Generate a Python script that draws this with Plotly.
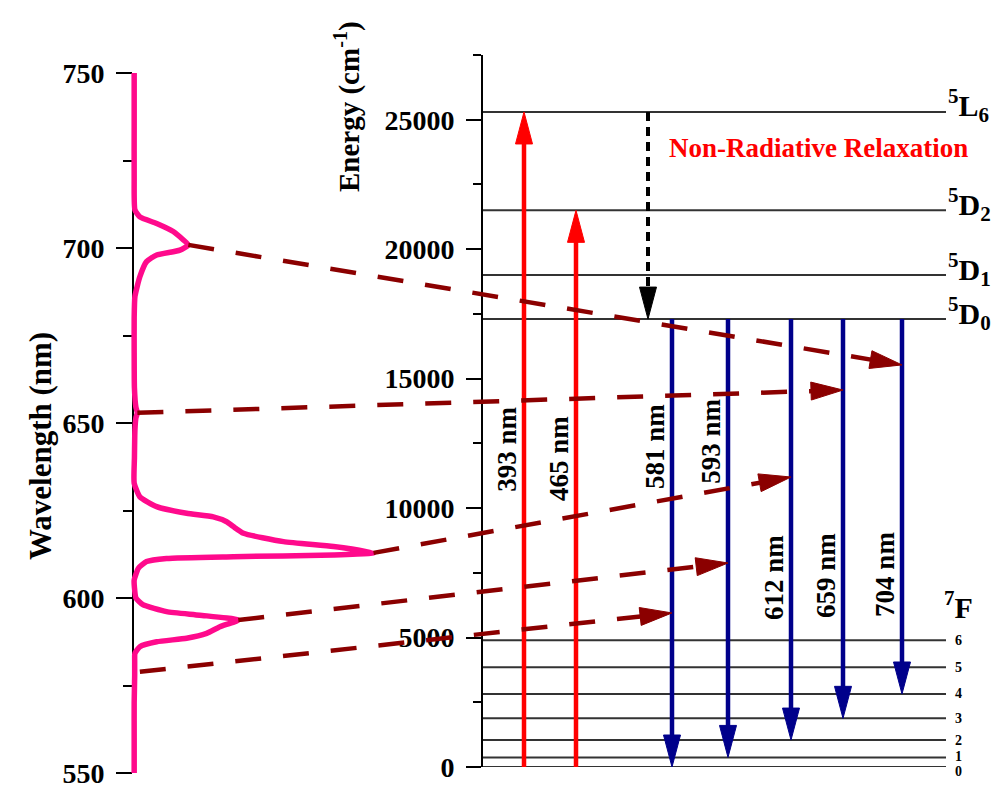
import plotly.graph_objects as go

W, H = 1002, 793

# ---------------- data ----------------
# Emission spectrum: wavelength (nm) vs normalised intensity
spec_wl = [550, 560, 570, 578, 582, 584.2, 586.1, 587.5, 588.5, 589.9, 591.8, 593.7,
           595.1, 596.1, 598.1, 600, 603, 605.1, 608.5, 610.4, 611.3, 611.8, 612.3,
           612.9, 614.7, 616.1, 618.5, 620.4, 621.8, 623.2, 624.2, 626.1, 628.9, 632.8,
           640, 648, 651.5, 652.9, 654.5, 660, 670, 680, 686.1, 691.8, 696.1, 698.0,
           699.4, 700.9, 702.3, 704.7, 707.0, 708.9, 710.9, 720, 735, 750]
spec_int = [0.005, 0.005, 0.005, 0.007, 0.007, 0.008, 0.028, 0.096, 0.217, 0.298, 0.352, 0.426,
            0.27, 0.136, 0.04, 0.012, 0.006, 0.005, 0.022, 0.055, 0.136, 0.406, 0.811,
            0.973, 0.811, 0.609, 0.447, 0.406, 0.379, 0.325, 0.217, 0.096, 0.028, 0.005,
            0.006, 0.008, 0.012, 0.018, 0.012, 0.006, 0.005, 0.005, 0.008, 0.028, 0.055, 0.096,
            0.19, 0.224, 0.204, 0.163, 0.096, 0.028, 0.008, 0.005, 0.005, 0.005]

# Excited levels (cm^-1)
upper_names = ["<sup>5</sup>L<sub>6</sub>", "<sup>5</sup>D<sub>2</sub>",
               "<sup>5</sup>D<sub>1</sub>", "<sup>5</sup>D<sub>0</sub>"]
upper_E = [25300, 21500, 19000, 17300]

# 7F_J ground multiplet (cm^-1)
f_J = [6, 5, 4, 3, 2, 1, 0]
f_E = [4900, 3850, 2820, 1880, 1040, 370, 0]

# Axis tick labels
e_ticks = [0, 5000, 10000, 15000, 20000, 25000]
e_ticktext = ["0", "5000", "10000", "15000", "20000", "25000"]
wl_ticks = [550, 600, 650, 700, 750]

# Excitation transitions (ground -> upper level)
exc_labels = ["393 nm", "465 nm"]
exc_col = [41, 93]
exc_top = [25300, 21500]
exc_label_E = [12250, 11900]

# Non-radiative relaxation 5L6 -> 5D0
relax_col = 165
relax_from, relax_to = 25300, 17300

# Emission transitions 5D0 -> 7F_J
em_labels = ["581 nm", "593 nm", "612 nm", "659 nm", "704 nm"]
em_col = [189, 245, 308, 360, 419]
em_J = [0, 1, 2, 3, 4]
em_label_E = [12360, 12560, 7300, 7380, 7420]

# Links from spectral peaks to the emission transitions
link_wl = [700.9, 652.9, 612.9, 593.7, 578.9]
link_int = [0.224, 0.018, 0.973, 0.426, 0.028]
link_col = [419, 360, 308, 245, 189]
link_E = [15530, 14560, 11200, 7880, 5950]

# ---------------- axes geometry ----------------
X1_DOM, X1_RNG = [128 / W, 400 / W], [-0.02, 1.08]
Y1_DOM, Y1_RNG = [1 - 773 / H, 1 - 73 / H], [550, 750]
X2_DOM, X2_RNG = [483 / W, 1.0], [0, 519]
Y2_DOM, Y2_RNG = [1 - 767 / H, 1 - 55 / H], [0, 27500]
LINE_END = 463


def frac(v, dom, rng):
    return dom[0] + (v - rng[0]) / (rng[1] - rng[0]) * (dom[1] - dom[0])


def px(xv, yv, xd, xr, yd, yr):
    return frac(xv, xd, xr) * W, (1 - frac(yv, yd, yr)) * H


def head_pts(tail, tip, length, half):
    dx, dy = tip[0] - tail[0], tip[1] - tail[1]
    n = (dx * dx + dy * dy) ** 0.5
    ux, uy = dx / n, dy / n
    bx, by = tip[0] - length * ux, tip[1] - length * uy
    nx, ny = -uy, ux
    return [tip, (bx + half * nx, by + half * ny), (bx - half * nx, by - half * ny)], (bx, by), (ux, uy)


# data units per pixel on the energy diagram
E_PER_PX = (Y2_RNG[1] - Y2_RNG[0]) / ((Y2_DOM[1] - Y2_DOM[0]) * H)
X_PER_PX = (X2_RNG[1] - X2_RNG[0]) / ((X2_DOM[1] - X2_DOM[0]) * W)

SERIF = "Liberation Serif, Times New Roman, serif"
MAROON = "#8B0000"
BLUE = "#00008B"
RED = "#FF0000"

fig = go.Figure()

# spectrum
fig.add_trace(go.Scatter(x=spec_int, y=spec_wl, mode="lines",
                         line=dict(color="#FF0A8C", width=5.5, shape="spline", smoothing=0.5),
                         xaxis="x", yaxis="y", hoverinfo="skip"))

# energy levels
lx, ly = [], []
for e in upper_E + f_E:
    lx += [0, LINE_END, None]
    ly += [e, e, None]
fig.add_trace(go.Scatter(x=lx, y=ly, mode="lines", line=dict(color="#333333", width=2),
                         xaxis="x2", yaxis="y2", hoverinfo="skip"))

HEAD_LEN, HEAD_HALF = 32, 8.5


def vertical_arrow(col, e_from, e_to, color, width, dash="solid"):
    sign = 1 if e_to > e_from else -1
    base = e_to - sign * HEAD_LEN * E_PER_PX
    shaft_end = e_to - sign * HEAD_LEN * 0.5 * E_PER_PX
    fig.add_trace(go.Scatter(x=[col, col], y=[e_from, shaft_end if dash == "solid" else base],
                             mode="lines", line=dict(color=color, width=width, dash=dash),
                             xaxis="x2", yaxis="y2", hoverinfo="skip"))
    hw = HEAD_HALF * X_PER_PX
    fig.add_trace(go.Scatter(x=[col, col - hw, col + hw, col], y=[e_to, base, base, e_to],
                             mode="lines", fill="toself", fillcolor=color,
                             line=dict(color=color, width=1),
                             xaxis="x2", yaxis="y2", hoverinfo="skip"))


for c, top in zip(exc_col, exc_top):
    vertical_arrow(c, 0, top, RED, 4.5)

vertical_arrow(relax_col, relax_from, relax_to, "black", 4, dash="9px,6px")

for c, j in zip(em_col, em_J):
    vertical_arrow(c, upper_E[3], f_E[f_J.index(j)], BLUE, 4.5)

# links from the spectrum to the emission arrows
shapes = []
for wl, it, col, e in zip(link_wl, link_int, link_col, link_E):
    tail = px(it, wl, X1_DOM, X1_RNG, Y1_DOM, Y1_RNG)
    tip = px(col, e, X2_DOM, X2_RNG, Y2_DOM, Y2_RNG)
    pts, base, u = head_pts(tail, tip, 32, 9)
    end = (base[0] + 10 * u[0], base[1] + 10 * u[1])
    shapes.append(dict(type="line", xref="paper", yref="paper",
                       x0=tail[0] / W, y0=1 - tail[1] / H, x1=end[0] / W, y1=1 - end[1] / H,
                       line=dict(color=MAROON, width=4.5, dash="26px,22px"), layer="above"))
    path = "M" + " L".join(f"{p[0] / W:.5f},{1 - p[1] / H:.5f}" for p in pts) + " Z"
    shapes.append(dict(type="path", xref="paper", yref="paper", path=path,
                       fillcolor=MAROON, line=dict(color=MAROON, width=1), layer="above"))

annotations = []
# axis titles
annotations.append(dict(text="Wavelength (nm)", textangle=-90, xref="paper", yref="paper",
                        x=40 / W, y=1 - 446 / H, xanchor="center", yanchor="middle",
                        showarrow=False,
                        font=dict(family=SERIF, size=31, color="black", weight="bold")))
annotations.append(dict(text="Energy (cm<sup>-1</sup>)", textangle=-90, xref="paper", yref="paper",
                        x=347 / W, y=1 - 107 / H, xanchor="center", yanchor="middle",
                        showarrow=False,
                        font=dict(family=SERIF, size=29, color="black", weight="bold")))
annotations.append(dict(text="Non-Radiative Relaxation", xref="paper", yref="paper",
                        x=667 / W, y=1 - 148 / H, xanchor="left", yanchor="middle", showarrow=False,
                        font=dict(family=SERIF, size=27, color=RED, weight="bold")))

# level names
for name, e in zip(upper_names, upper_E):
    annotations.append(dict(text=name, xref="x2", yref="y2", x=LINE_END, y=e, xanchor="left",
                            yanchor="middle", yshift=6, showarrow=False,
                            font=dict(family=SERIF, size=30, color="black", weight="bold")))
annotations.append(dict(text="<sup>7</sup>F", xref="x2", yref="y2", x=LINE_END - 4, y=6260,
                        xanchor="left", yanchor="middle", showarrow=False,
                        font=dict(family=SERIF, size=30, color="black", weight="bold")))
for j, e in zip(f_J, f_E):
    annotations.append(dict(text=str(j), xref="x2", yref="y2", x=LINE_END + 12, y=e,
                            xanchor="center", yanchor="middle",
                            yshift=-4 if j == 0 else (1 if j == 1 else 0),
                            showarrow=False,
                            font=dict(family=SERIF, size=14, color="black", weight="bold")))

# transition labels
for lab, c, e in zip(exc_labels + em_labels, exc_col + em_col, exc_label_E + em_label_E):
    annotations.append(dict(text=lab, xref="x2", yref="y2", x=c, y=e, xshift=-17,
                            xanchor="center", yanchor="middle",
                            textangle=-90, showarrow=False,
                            font=dict(family=SERIF, size=27, color="black", weight="bold")))

tickfont = dict(family=SERIF, size=28, color="black", weight="bold")
fig.update_layout(
    width=W, height=H, margin=dict(l=0, r=0, t=0, b=0, pad=0, autoexpand=False),
    paper_bgcolor="white", plot_bgcolor="rgba(0,0,0,0)", showlegend=False,
    font=dict(family=SERIF, color="black"),
    xaxis=dict(domain=X1_DOM, range=X1_RNG, visible=False, automargin=False),
    yaxis=dict(domain=Y1_DOM, range=Y1_RNG, anchor="free", position=133 / W, side="left",
               automargin=False,
               showline=True, linecolor="black", linewidth=2, layer="below traces",
               ticks="outside", ticklen=16, tickwidth=2, tickcolor="black",
               tickvals=wl_ticks, tickfont=tickfont, ticklabelstandoff=6,
               minor=dict(tickvals=[575, 625, 675, 725], ticks="outside", ticklen=9,
                          tickwidth=2, tickcolor="black"),
               showgrid=False, zeroline=False),
    xaxis2=dict(domain=X2_DOM, range=X2_RNG, visible=False, anchor="y2", automargin=False),
    yaxis2=dict(domain=Y2_DOM, range=Y2_RNG, anchor="x2", side="left", automargin=False,
                showline=True, linecolor="black", linewidth=2,
                ticks="outside", ticklen=15, tickwidth=2, tickcolor="black",
                tickvals=e_ticks, ticktext=e_ticktext, tickfont=tickfont,
                ticklabelstandoff=6,
                minor=dict(tickvals=[2500, 7500, 12500, 17500, 22500, 27500], ticks="outside",
                           ticklen=8, tickwidth=2, tickcolor="black"),
                showgrid=False, zeroline=False),
    shapes=shapes, annotations=annotations,
)

fig.write_html("out.html")
